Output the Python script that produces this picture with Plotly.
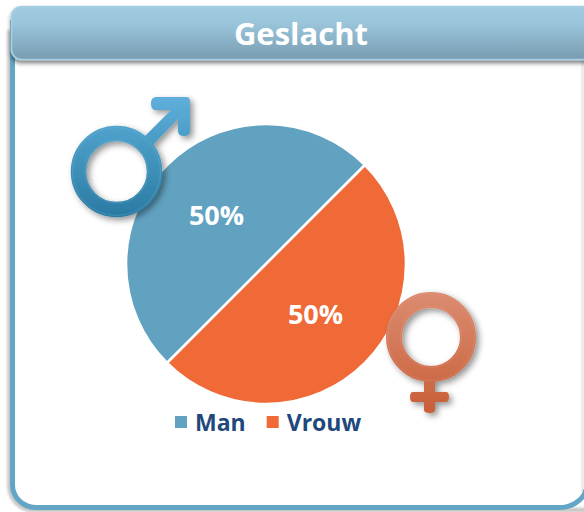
import base64
import plotly.graph_objects as go

W, H = 584, 512
TITLE = "Geslacht"
categories = ["Man", "Vrouw"]
values = [50, 50]
colors = ["#61A2C1", "#F06A37"]

BG_SVG = f'''<svg xmlns="http://www.w3.org/2000/svg" width="{W}" height="{H}" viewBox="0 0 {W} {H}">
<defs>
<linearGradient id="h" x1="0" y1="0" x2="0" y2="1"><stop offset="0" stop-color="#A0CCE2"/><stop offset="0.3" stop-color="#9AC6DC"/><stop offset="1" stop-color="#799CB1"/></linearGradient>
<filter id="s" x="-5%" y="-20%" width="110%" height="150%"><feDropShadow dx="0" dy="3" stdDeviation="2.2" flood-color="#000" flood-opacity="0.5"/></filter>
<filter id="b" x="-5%" y="-5%" width="110%" height="110%"><feGaussianBlur stdDeviation="1.6"/></filter>
</defs>
<rect x="0" y="0" width="{W}" height="{H}" fill="#fff"/>
<path d="M9.5,30 V486 a24,24 0 0 0 24,24 H600" fill="none" stroke="#888" stroke-width="4" opacity="0.55" filter="url(#b)"/>
<rect x="581" y="60" width="3" height="432" fill="#EDEDED"/>
<path d="M12.5,20 V484 a23,23 0 0 0 23,23.5 H556 a28,22 0 0 0 30,-18" fill="none" stroke="#63A5C4" stroke-width="5"/>
<rect x="11.5" y="6.5" width="590" height="53" rx="10" ry="10" fill="url(#h)" stroke="#A6D0E4" stroke-width="1.6" filter="url(#s)"/>
</svg>'''

SYM_SVG = f'''<svg xmlns="http://www.w3.org/2000/svg" width="{W}" height="{H}" viewBox="0 0 {W} {H}">
<defs>
<linearGradient id="m" gradientUnits="userSpaceOnUse" x1="0" y1="97" x2="0" y2="217"><stop offset="0" stop-color="#5FAEDB"/><stop offset="0.35" stop-color="#4A9DC6"/><stop offset="1" stop-color="#2A7AA3"/></linearGradient>
<linearGradient id="f" gradientUnits="userSpaceOnUse" x1="0" y1="293" x2="0" y2="413"><stop offset="0" stop-color="#DB8B70"/><stop offset="1" stop-color="#C85F38"/></linearGradient>
<filter id="d" x="-30%" y="-30%" width="170%" height="170%"><feDropShadow dx="3" dy="3" stdDeviation="3" flood-color="#000" flood-opacity="0.42"/></filter>
</defs>
<g filter="url(#d)" fill="url(#m)">
<path d="M142,139 L171,110 L155,110 Q151,110 151,103.5 Q151,97 156,97 L186,97 Q190,97 190,101 L190,131 Q190,136 184,136 Q178,136 178,131 L178,119 L150,148 Z"/>
<circle cx="116.5" cy="171.5" r="38" fill="none" stroke="url(#m)" stroke-width="15.5"/>
</g>
<circle cx="116.5" cy="171.5" r="44" fill="none" stroke="#8CC4E0" stroke-width="0.7" opacity="0.35"/>
<circle cx="116.5" cy="171.5" r="31.5" fill="none" stroke="#8CC4E0" stroke-width="0.7" opacity="0.35"/>
<g filter="url(#d)" fill="url(#f)">
<path d="M424,375 H435 V392 H446 Q449,392 449,397 Q449,402 446,402 H435 V410 Q435,413 430,413 Q424,413 424,410 V402 H413 Q410,402 410,397 Q410,392 413,392 H424 Z"/>
<circle cx="431" cy="337" r="37" fill="none" stroke="url(#f)" stroke-width="16"/>
</g>
<circle cx="431" cy="337" r="43.5" fill="none" stroke="#EBA78F" stroke-width="0.7" opacity="0.35"/>
<circle cx="431" cy="337" r="30.5" fill="none" stroke="#EBA78F" stroke-width="0.7" opacity="0.35"/>
</svg>'''


def uri(svg):
    return "data:image/svg+xml;base64," + base64.b64encode(svg.encode()).decode()


def img(svg, layer):
    return dict(source=uri(svg), xref="paper", yref="paper", x=0, y=1, sizex=1, sizey=1,
                xanchor="left", yanchor="top", sizing="stretch", layer=layer)


fig = go.Figure(go.Pie(
    labels=categories, values=values, sort=False, direction="clockwise", rotation=225,
    marker=dict(colors=colors, line=dict(color="#FFFFFF", width=2.5)),
    textinfo="percent", textposition="inside", insidetextorientation="horizontal",
    textfont=dict(family="Open Sans", size=27, color="#FFFFFF", weight="bold"),
    hoverinfo="label+percent",
    domain=dict(x=[126 / W, 406 / W], y=[1 - 404 / H, 1 - 124 / H]),
))
fig.update_layout(
    width=W, height=H, autosize=False,
    margin=dict(l=0, r=0, t=0, b=0),
    paper_bgcolor="#FFFFFF",
    font=dict(family="Open Sans"),
    images=[img(BG_SVG, "below"), img(SYM_SVG, "above")],
    title=dict(text=TITLE, x=301 / W, xanchor="center", y=1 - 34 / H, yanchor="middle",
               font=dict(family="Open Sans", size=31, color="#FFFFFF", weight="bold")),
    legend=dict(orientation="h", x=161 / W, xanchor="left", y=1 - 422 / H, yanchor="middle",
                bgcolor="rgba(0,0,0,0)", font=dict(family="Open Sans", size=23, color="#1F497D", weight="bold")),
    showlegend=True,
)
POST = """document.documentElement.style.margin='0';document.body.style.margin='0';
document.querySelectorAll('.legendpoints path').forEach(function(p){p.style.strokeWidth='0';});
document.querySelectorAll('.legendtext').forEach(function(t){t.setAttribute('x','34');});
var items=document.querySelectorAll('.legend .traces');
if(items.length>1){items[1].setAttribute('transform',items[1].getAttribute('transform')+' translate(-4,0)');}"""
fig.write_html("out.html", post_script=POST, config={"displayModeBar": False})
